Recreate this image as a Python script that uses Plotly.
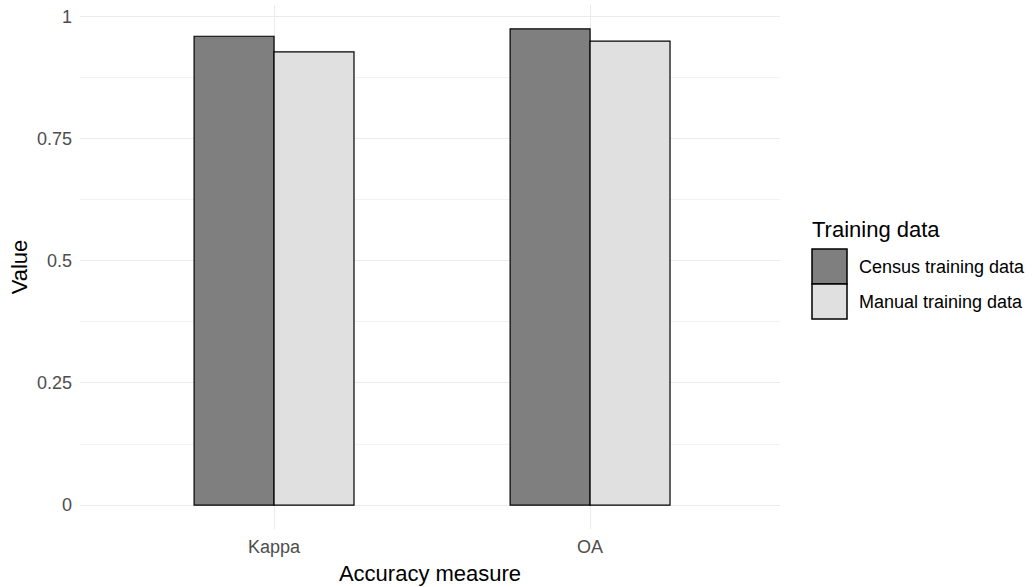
import plotly.graph_objects as go

categories = ["Kappa", "OA"]
census_values = [0.960, 0.975]
manual_values = [0.928, 0.950]
series_names = ["Census training data", "Manual training data"]
legend_title = "Training data"
y_ticks = [0, 0.25, 0.5, 0.75, 1]
y_tick_labels = ["0", "0.25", "0.5", "0.75", "1"]

colors = ["#7f7f7f", "#e0e0e0"]
FONT = "Liberation Sans, Arial, sans-serif"

fig = go.Figure()
for name, vals, col in zip(series_names, [census_values, manual_values], colors):
    fig.add_trace(go.Bar(x=categories, y=vals, name=name, showlegend=False,
                         marker=dict(color=col, line=dict(color="black", width=1.2))))

W, H = 1035, 587
ml, mr, mt, mb = 80, 255, 5, 58
pw, ph = W - ml - mr, H - mt - mb

def px_x(x):
    return (x - ml) / pw

def px_y(y):
    return (H - mb - y) / ph

shapes = []
annotations = []
# manual legend (ggplot style keys)
key_top = 249
key_h = 35
for i, (name, col) in enumerate(zip(series_names, colors)):
    y0 = key_top + i * key_h
    shapes.append(dict(type="rect", xref="paper", yref="paper",
                       x0=px_x(812), x1=px_x(847), y0=px_y(y0 + key_h), y1=px_y(y0),
                       fillcolor=col, line=dict(color="black", width=1.5)))
    annotations.append(dict(text=name, xref="paper", yref="paper",
                            x=px_x(857), y=px_y(y0 + key_h / 2), xanchor="left", yanchor="middle",
                            showarrow=False, font=dict(size=18, color="black", family=FONT)))
annotations.append(dict(text=legend_title, xref="paper", yref="paper",
                        x=px_x(810), y=px_y(229), xanchor="left", yanchor="middle",
                        showarrow=False, font=dict(size=22, color="black", family=FONT)))

fig.update_layout(
    width=W, height=H,
    margin=dict(l=ml, r=mr, t=mt, b=mb),
    plot_bgcolor="white", paper_bgcolor="white",
    barmode="group", bargap=0.494, bargroupgap=0,
    font=dict(family=FONT, color="black"),
    shapes=shapes, annotations=annotations,
    xaxis=dict(
        type="category", range=[-0.614, 1.601], automargin=False,
        showgrid=True, gridcolor="#ebebeb", gridwidth=1,
        tickfont=dict(size=18, color="#4d4d4d"), ticks="", ticklabelstandoff=5,
        title=dict(text="Accuracy measure", font=dict(size=22, color="black"), standoff=9),
        zeroline=False, showline=False,
    ),
    yaxis=dict(
        range=[-0.049, 1.024], automargin=False,
        tickvals=y_ticks, ticktext=y_tick_labels,
        showgrid=True, gridcolor="#ebebeb", gridwidth=1,
        minor=dict(dtick=0.125, tick0=0, showgrid=True, gridcolor="#f2f2f2", gridwidth=1),
        tickfont=dict(size=18, color="#4d4d4d"), ticks="", ticklabelstandoff=7,
        title=dict(text="Value", font=dict(size=22, color="black"), standoff=3),
        zeroline=False, showline=False,
    ),
)

fig.write_html("out.html", config={"displayModeBar": False},
               post_script="document.body.style.margin='0';")
